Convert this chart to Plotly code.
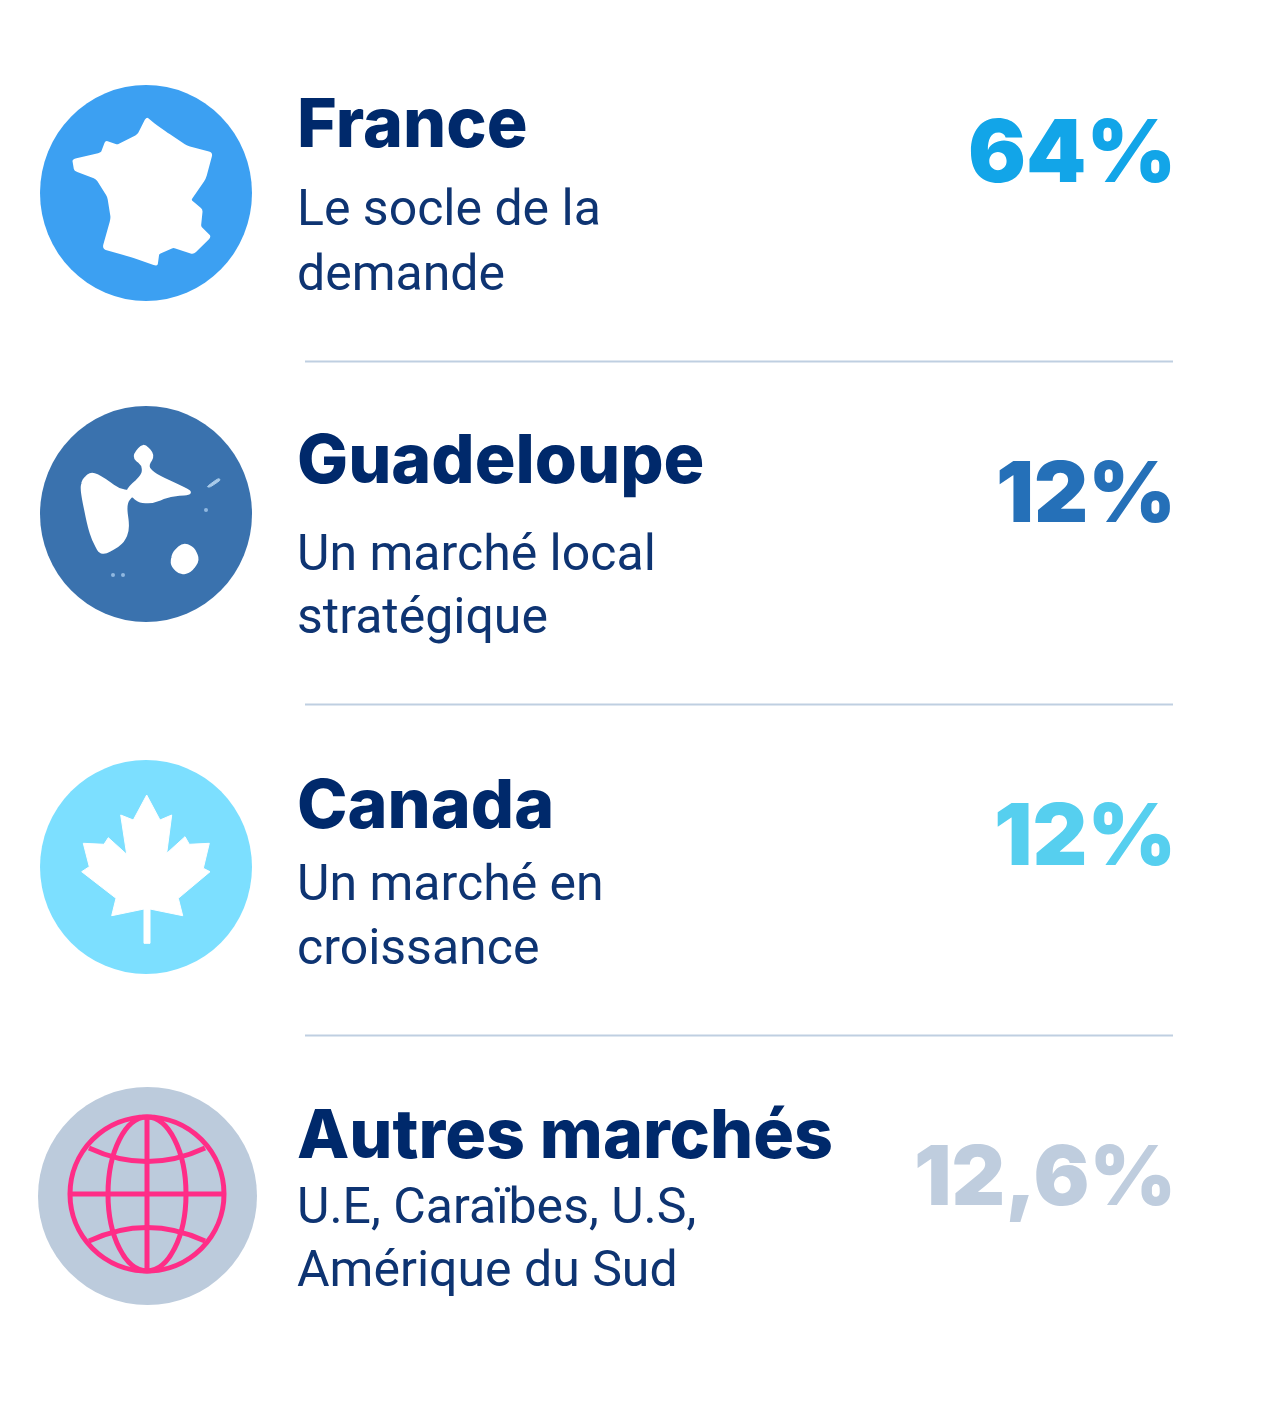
import plotly.graph_objects as go

# chart values
names = ["France", "Guadeloupe", "Canada", "Autres marchés"]
subtitles = [
    "Le socle de la<br>demande",
    "Un marché local<br>stratégique",
    "Un marché en<br>croissance",
    "U.E, Caraïbes, U.S,<br>Amérique du Sud",
]
shares = [64, 12, 12, 12.6]
share_colors = ["#12A5E8", "#2570B8", "#56CFEF", "#BFCDDE"]
icon_colors = ["#3CA0F2", "#3A72AE", "#7CDFFF", "#BCCBDC"]

NAVY = "#00296B"
SUB_NAVY = "#0E3472"
PINK = "#FF2D87"
RULE = "#BFCFE1"

# pixel layout of each row
icon_x = [146, 146, 146, 147.5]
icon_y = [193, 514, 867, 1196]
icon_rx = [106, 106, 106, 109.5]
icon_ry = [108, 108, 107, 109]
title_y = [122, 458, 803, 1133]
sub_y = [[207.5, 272.5], [552.5, 616], [883, 946.5], [1205.5, 1268.5]]
share_y = [151, 491, 834, 1175]
share_size = [86, 84, 85, 83]
rule_y = [361.5, 704.5, 1035.5]

# icon outlines, traced on crops of 230 px scaled 3x
france = [(130, 255), (215, 235), (228, 200), (262, 212), (325, 180), (350, 130), (375, 150),
          (410, 175), (470, 215), (545, 235), (525, 310), (480, 375), (515, 405), (510, 455),
          (540, 485), (490, 535), (430, 515), (385, 535), (380, 570), (310, 545), (220, 520),
          (245, 430), (235, 365), (200, 310), (135, 285)]
basse_terre = [(160, 240), (185, 218), (225, 240), (265, 270), (312, 278), (285, 310), (295, 390),
               (275, 430), (215, 465), (190, 420), (175, 370), (155, 270)]
grande_terre = [(290, 272), (340, 225), (340, 195), (310, 170), (340, 132), (370, 165), (350, 200),
                (375, 225), (440, 255), (490, 280), (420, 285), (370, 305), (330, 305), (305, 285)]
marie_galante = [(430, 460), (460, 432), (490, 445), (505, 480), (480, 515), (450, 520), (425, 495)]
desirade = [(530, 260), (565, 235), (572, 240), (540, 262)]
maple = [(350, 120), (390, 195), (425, 180), (410, 295), (465, 245), (478, 268), (538, 265),
         (520, 340), (540, 350), (445, 430), (458, 482), (360, 462), (360, 565), (342, 565),
         (342, 462), (245, 482), (258, 430), (155, 350), (178, 335), (160, 265), (222, 268),
         (235, 248), (290, 298), (272, 180), (310, 195)]


def crop_path(points, x0, y0):
    # crop coords back to page pixels
    pts = [f"{x / 3 + x0:.1f},{y / 3 + y0:.1f}" for x, y in points]
    return "M" + " L".join(pts) + " Z"


def smooth_path(points, x0, y0, cut=0.3):
    # same outline with each corner rounded off, cut = share of the edge used
    pts = [(x / 3 + x0, y / 3 + y0) for x, y in points]
    n = len(pts)
    path = ""
    for i in range(n):
        px, py = pts[i - 1]
        cx, cy = pts[i]
        nx, ny = pts[(i + 1) % n]
        ax, ay = cx + (px - cx) * cut, cy + (py - cy) * cut
        bx, by = cx + (nx - cx) * cut, cy + (ny - cy) * cut
        path += f"{'L' if path else 'M'}{ax:.1f},{ay:.1f} Q{cx:.1f},{cy:.1f} {bx:.1f},{by:.1f} "
    return path + "Z"


def white(path, color="white", width=1):
    return dict(type="path", path=path, xref="x", yref="y", fillcolor=color,
                line=dict(color=color, width=width), layer="above")


fig = go.Figure()
# invisible trace so the axes exist
fig.add_trace(go.Scatter(x=[0, 1280], y=[0, 1402], mode="markers",
                         marker=dict(opacity=0), hoverinfo="skip", showlegend=False))

shapes = []
for cx, cy, rx, ry, color in zip(icon_x, icon_y, icon_rx, icon_ry, icon_colors):
    shapes.append(dict(type="circle", xref="x", yref="y", x0=cx - rx, x1=cx + rx,
                       y0=cy - ry, y1=cy + ry, fillcolor=color, line=dict(width=0), layer="below"))

shapes.append(white(smooth_path(france, 30, 75, cut=0.12), width=2))
for part in [basse_terre, grande_terre, marie_galante]:
    shapes.append(white(smooth_path(part, 30, 400, cut=0.4), width=3))
shapes.append(white(smooth_path(desirade, 30, 400), "#A9CBEA"))
for dot_x, dot_y in [(206, 510), (113, 575), (123, 575)]:
    shapes.append(dict(type="circle", xref="x", yref="y", x0=dot_x - 2, x1=dot_x + 2,
                       y0=dot_y - 2, y1=dot_y + 2, fillcolor="#8FB8E0", line=dict(width=0)))
shapes.append(white(crop_path(maple, 30, 755)))

# globe
gx, gy, gr = 147, 1194, 77
globe_line = dict(color=PINK, width=5)
shapes.append(dict(type="circle", xref="x", yref="y", x0=gx - gr, x1=gx + gr, y0=gy - gr, y1=gy + gr,
                   line=globe_line))
shapes.append(dict(type="circle", xref="x", yref="y", x0=gx - 39, x1=gx + 39, y0=gy - gr, y1=gy + gr,
                   line=globe_line))
shapes.append(dict(type="line", xref="x", yref="y", x0=gx, x1=gx, y0=gy - gr, y1=gy + gr, line=globe_line))
shapes.append(dict(type="line", xref="x", yref="y", x0=gx - gr, x1=gx + gr, y0=gy, y1=gy, line=globe_line))
shapes.append(dict(type="path", xref="x", yref="y", line=globe_line,
                   path=f"M{gx - 58},{gy - 46} Q{gx},{gy - 19} {gx + 58},{gy - 46}"))
shapes.append(dict(type="path", xref="x", yref="y", line=globe_line,
                   path=f"M{gx - 58},{gy + 47} Q{gx},{gy + 20} {gx + 58},{gy + 47}"))

for y in rule_y:
    shapes.append(dict(type="line", xref="x", yref="y", x0=305, x1=1173, y0=y, y1=y,
                       line=dict(color=RULE, width=2)))

annotations = []
for i, name in enumerate(names):
    annotations.append(dict(x=295, y=title_y[i], text=name, xanchor="left", yanchor="middle",
                            showarrow=False,
                            font=dict(family="Inter", size=68, color=NAVY, weight=800)))
    for line, y in zip(subtitles[i].split("<br>"), sub_y[i]):
        annotations.append(dict(x=295, y=y, text=line, xanchor="left", yanchor="middle",
                                showarrow=False,
                                font=dict(family="Roboto", size=50, color=SUB_NAVY)))
    label = f"{shares[i]}%".replace(".", ",")
    annotations.append(dict(x=1178, y=share_y[i], text=label, xanchor="right", yanchor="middle",
                            showarrow=False,
                            font=dict(family="Inter", size=share_size[i], color=share_colors[i], weight=900)))

fig.update_layout(width=1280, height=1402, margin=dict(l=0, r=0, t=0, b=0),
                  paper_bgcolor="white", plot_bgcolor="white", showlegend=False,
                  shapes=shapes, annotations=annotations)
fig.update_xaxes(range=[0, 1280], visible=False, fixedrange=True)
fig.update_yaxes(range=[1402, 0], visible=False, fixedrange=True)

fig.write_html("out.html", config=dict(displayModeBar=False),
               post_script="document.body.style.margin='0';")
